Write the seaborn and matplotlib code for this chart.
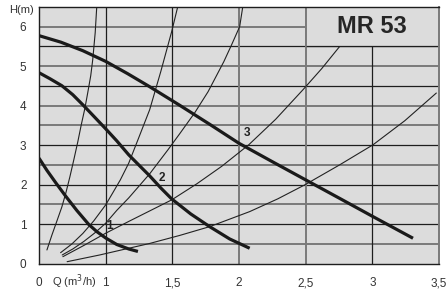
import numpy as np
import pandas as pd
import matplotlib
matplotlib.use("Agg")
import matplotlib.pyplot as plt
import seaborn as sns

# pump curves (Q in m3/h, H in m)
q1 = [0.0, 0.119, 0.254, 0.403, 0.567, 0.746, 0.866, 1.0, 1.083, 1.173, 1.242]
h1 = [2.67, 2.36, 2.04, 1.70, 1.345, 0.99, 0.81, 0.647, 0.482, 0.368, 0.305]

q2 = [0.0, 0.164, 0.343, 0.507, 0.672, 0.836, 1.0, 1.083, 1.173, 1.255,
      1.33, 1.413, 1.495, 1.638, 1.78, 1.93, 2.08]
h2 = [4.835, 4.683, 4.505, 4.277, 3.997, 3.706, 3.414, 3.109, 2.754, 2.475,
      2.221, 1.916, 1.637, 1.256, 0.934, 0.622, 0.386]

q3 = [0.0, 0.328, 0.657, 1.0, 1.165, 1.33, 1.555, 1.78, 2.0, 2.245,
      2.5, 2.755, 3.005, 3.305]
h3 = [5.774, 5.609, 5.393, 5.122, 4.81, 4.48, 4.01, 3.528, 3.046, 2.589,
      2.119, 1.65, 1.188, 0.64]

# system curves (thin)
qa = [0.119, 0.194, 0.269, 0.343, 0.403, 0.463, 0.522, 0.582, 0.634,
      0.687, 0.731, 0.776, 0.806, 0.843, 0.866]
ha = [0.343, 0.723, 1.079, 1.434, 1.789, 2.195, 2.627, 3.084, 3.515,
      3.921, 4.327, 4.759, 5.165, 5.85, 6.5]

qb = [0.324, 0.493, 0.657, 0.821, 1.0, 1.053, 1.11, 1.173, 1.242, 1.33,
      1.413, 1.495, 1.54]
hb = [0.274, 0.495, 0.761, 1.079, 1.485, 1.789, 2.119, 2.543, 3.135, 3.896,
      4.86, 5.876, 6.5]

qc = [0.348, 0.507, 0.672, 0.836, 1.0, 1.083, 1.173, 1.33, 1.467, 1.555,
      1.668, 1.768, 1.886, 1.945, 2.005, 2.028]
hc = [0.216, 0.368, 0.558, 0.774, 1.02, 1.345, 1.662, 2.272, 2.881, 3.287,
      3.82, 4.353, 5.114, 5.546, 6.003, 6.5]

qd = [0.358, 0.672, 1.0, 1.173, 1.33, 1.495, 1.683, 1.87, 2.073, 2.275,
      2.48, 2.62, 2.755]
hd = [0.173, 0.457, 0.767, 1.066, 1.332, 1.612, 2.018, 2.462, 3.008, 3.655,
      4.404, 4.937, 5.5]

qe = [0.422, 0.91, 1.173, 1.33, 1.555, 1.78, 2.08, 2.29, 2.493, 2.755,
      3.005, 3.243, 3.48]
he = [0.046, 0.216, 0.386, 0.508, 0.711, 0.934, 1.315, 1.637, 1.992, 2.5,
      3.008, 3.617, 4.32]

x_ticks = [0, 1, 1.5, 2, 2.5, 3, 3.5]
x_labels = ["0", "1", "1,5", "2", "2,5", "3", "3,5"]
y_ticks = [0, 1, 2, 3, 4, 5, 6]

curve_labels = ["1", "2", "3"]
label_pos = [(1.03, 0.95), (1.42, 2.17), (2.06, 3.31)]


# first segment (0..1) of the Q axis is drawn at half scale
def fwd(q):
    q = np.asarray(q, dtype=float)
    return np.where(q <= 1, 0.5 * q, q - 0.5)


def inv(u):
    u = np.asarray(u, dtype=float)
    return np.where(u <= 0.5, 2 * u, u + 0.5)


sns.set_style("white")
plt.rcParams['font.family'] = ['Liberation Sans', 'DejaVu Sans']

fig = plt.figure(figsize=(4.47, 2.93), dpi=100)
ax = fig.add_axes([39 / 447, 29.5 / 293, 400 / 447, 256.5 / 293])
ax.set_facecolor("#dcdcdc")
ax.set_xscale("function", functions=(fwd, inv))
ax.set_xlim(0, 3.5)
ax.set_ylim(0, 6.5)

# grid
dark_h = [1, 2, 3, 4.5, 5.5]
for y in np.arange(0.5, 6.5, 0.5):
    if y in dark_h:
        ax.axhline(y, color="#1e1e1e", lw=0.9, zorder=1)
    else:
        ax.axhline(y, color="#7a7a7a", lw=1.4, zorder=1)
for x in [1, 1.5, 3]:
    ax.axvline(x, color="#1e1e1e", lw=0.9, zorder=1)
for x in [2, 2.5]:
    ax.axvline(x, color="#7a7a7a", lw=1.4, zorder=1)

for q, h in [(qa, ha), (qb, hb), (qc, hc), (qd, hd), (qe, he)]:
    sns.lineplot(x=q, y=h, ax=ax, color="#222222", lw=0.8, sort=False, zorder=2)

for q, h in [(q1, h1), (q2, h2), (q3, h3)]:
    sns.lineplot(x=q, y=h, ax=ax, color="#1a1a1a", lw=2.3, sort=False, zorder=3,
                 solid_capstyle="butt")

for lab, (x, y) in zip(curve_labels, label_pos):
    ax.text(x, y, lab, fontsize=8.5, fontweight="bold", color="#222222",
            ha="center", va="center", zorder=4)

# title box
ax.fill_between([2.5, 3.5], 5.5, 6.5, color="#dcdcdc", zorder=5, lw=0)
ax.plot([2.5, 3.5], [5.5, 5.5], color="#1e1e1e", lw=0.9, zorder=6)
ax.plot([2.5, 2.5], [5.5, 6.5], color="#7a7a7a", lw=1.4, zorder=6)
ax.text(3.0, 6.0, "MR 53", fontsize=17, fontweight="bold", color="#262626",
        ha="center", va="center", zorder=7)

for s in ["left", "bottom", "top"]:
    ax.spines[s].set_color("#1e1e1e")
    ax.spines[s].set_linewidth(1.0)
ax.spines["right"].set_color("#7a7a7a")
ax.spines["right"].set_linewidth(1.4)
for s in ax.spines.values():
    s.set_zorder(8)

ax.set_xticks(x_ticks)
ax.set_xticklabels(x_labels)
ax.set_yticks(y_ticks)
ax.set_yticklabels([str(v) for v in y_ticks])
ax.tick_params(axis="both", length=0, labelsize=8.5, labelcolor="#333333")
ax.tick_params(axis="x", pad=10)
ax.tick_params(axis="y", pad=9)
ax.set_xlabel("")
ax.set_ylabel("")

ax.text(-0.0425, 6.42, "H(m)", transform=ax.get_yaxis_transform(),
        fontsize=8, color="#333333", ha="center", va="center")
ax.text(0.19, -0.072, "Q (m$^3$/h)", transform=ax.get_xaxis_transform(),
        fontsize=8, color="#333333", ha="left", va="center")

fig.savefig("out.png", dpi=100)
